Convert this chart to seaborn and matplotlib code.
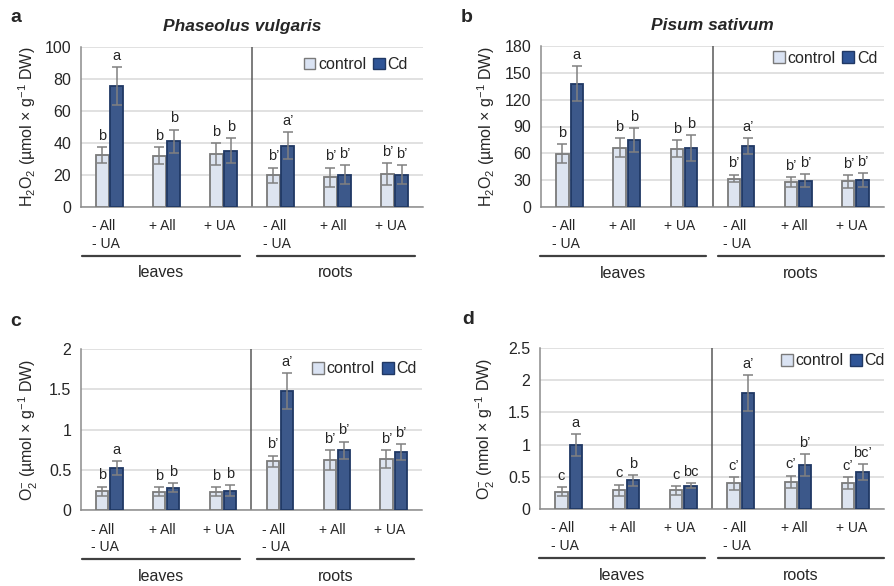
import numpy as np
import pandas as pd
import seaborn as sns
import matplotlib.pyplot as plt
import matplotlib.transforms as mtransforms
from matplotlib.patches import Patch

# categories
treatments = ["- All\n- UA", "+ All", "+ UA"]
organs = ["leaves", "roots"]
conditions = ["control", "Cd"]
positions = ["L1", "L2", "L3", "R1", "R2", "R3"]

# panel a: H2O2, Phaseolus vulgaris
a_control = [32.6, 32.0, 33.0, 19.8, 18.7, 20.4]
a_control_err = [5.1, 5.3, 7.0, 4.8, 5.9, 6.8]
a_cd = [75.6, 41.0, 35.2, 38.3, 20.2, 20.2]
a_cd_err = [11.6, 7.4, 8.0, 8.6, 5.9, 5.9]
a_control_sig = ["b", "b", "b", "b’", "b’", "b’"]
a_cd_sig = ["a", "b", "b", "a’", "b’", "b’"]

# panel b: H2O2, Pisum sativum
b_control = [59.4, 66.5, 65.4, 31.8, 27.6, 28.8]
b_control_err = [10.5, 10.8, 9.3, 4.4, 5.6, 7.1]
b_cd = [137.8, 74.7, 66.1, 68.0, 29.5, 30.3]
b_cd_err = [19.5, 13.1, 14.2, 9.3, 7.5, 7.4]
b_control_sig = ["b", "b", "b", "b’", "b’", "b’"]
b_cd_sig = ["a", "b", "b", "a’", "b’", "b’"]

# panel c: O2-, Phaseolus vulgaris
c_control = [0.233, 0.225, 0.225, 0.604, 0.62, 0.633]
c_control_err = [0.057, 0.055, 0.055, 0.071, 0.12, 0.112]
c_cd = [0.525, 0.275, 0.24, 1.48, 0.74, 0.717]
c_cd_err = [0.085, 0.055, 0.07, 0.22, 0.11, 0.10]
c_control_sig = ["b", "b", "b", "b’", "b’", "b’"]
c_cd_sig = ["a", "b", "b", "a’", "b’", "b’"]

# panel d: O2-, Pisum sativum
d_control = [0.27, 0.29, 0.29, 0.40, 0.42, 0.40]
d_control_err = [0.07, 0.09, 0.07, 0.10, 0.10, 0.09]
d_cd = [0.995, 0.445, 0.36, 1.80, 0.68, 0.575]
d_cd_err = [0.165, 0.085, 0.04, 0.28, 0.17, 0.125]
d_control_sig = ["c", "c", "c", "c’", "c’", "c’"]
d_cd_sig = ["a", "b", "bc", "a’", "b’", "bc’"]

CONTROL_COLOR = "#dae3f3"
CONTROL_EDGE = "#7a7a7a"
CD_COLOR = "#2f5597"
CD_EDGE = "#203864"
GRID_COLOR = "#d9d9d9"
TEXT_COLOR = "#262626"

sns.set_style("white")
plt.rcParams["font.family"] = ["Liberation Sans", "DejaVu Sans"]
plt.rcParams["mathtext.default"] = "regular"

fig = plt.figure(figsize=(8.94, 5.86), dpi=100)


def draw_panel(rect, letter, letter_xy, title, title_xy, ylabel, ymax, ystep,
               ctrl, ctrl_err, cd, cd_err, ctrl_sig, cd_sig,
               legend_xy, label_x, lines):
    ax = fig.add_axes(rect)
    df = pd.DataFrame({
        "pos": positions * 2,
        "value": ctrl + cd,
        "condition": ["control"] * 6 + ["Cd"] * 6,
    })
    sns.barplot(data=df, x="pos", y="value", hue="condition", order=positions,
                hue_order=conditions, palette=[CONTROL_COLOR, CD_COLOR],
                width=0.5, gap=0.14, errorbar=None, legend=False, ax=ax,
                linewidth=1.3, zorder=3)

    edges = [CONTROL_EDGE, CD_EDGE]
    for cont, err, sig, ec in zip(ax.containers, [ctrl_err, cd_err],
                                  [ctrl_sig, cd_sig], edges):
        xs, tops = [], []
        for bar in cont:
            bar.set_edgecolor(ec)
            xs.append(bar.get_x() + bar.get_width() / 2)
            tops.append(bar.get_height())
        ax.errorbar(xs, tops, yerr=err, fmt="none", ecolor="#808080",
                    elinewidth=1.1, capsize=3.5, capthick=1.1, zorder=4)
        for x, t, e, s in zip(xs, tops, err, sig):
            ax.annotate(s, (x, t + e), xytext=(0, 3), textcoords="offset points",
                        ha="center", va="bottom", fontsize=10.5, color=TEXT_COLOR)

    ax.set_xlim(-0.5, 5.5)
    ax.set_ylim(0, ymax)
    ticks = np.arange(0, ymax + ystep / 2, ystep)
    ax.set_yticks(ticks)
    ax.set_yticklabels([f"{t:g}" for t in ticks])
    ax.yaxis.grid(True, color=GRID_COLOR, linewidth=1.1, zorder=0)
    ax.set_axisbelow(True)
    ax.tick_params(axis="y", length=0, pad=7, labelsize=11.5, labelcolor=TEXT_COLOR)
    ax.tick_params(axis="x", length=0, pad=9, labelsize=10, labelcolor=TEXT_COLOR)
    ax.set_xticks(range(6))
    ax.set_xticklabels(treatments * 2, multialignment="left", linespacing=1.3)
    offset = mtransforms.ScaledTranslation(-0.04, 0, fig.dpi_scale_trans)
    for lab in ax.get_xticklabels():
        lab.set_transform(lab.get_transform() + offset)

    for side in ["top", "right"]:
        ax.spines[side].set_visible(False)
    for side in ["left", "bottom"]:
        ax.spines[side].set_color("#8c8c8c")
        ax.spines[side].set_linewidth(1.1)
    ax.axvline(2.5, color="#595959", linewidth=1.1, zorder=2)

    ax.set_xlabel("")
    ax.set_ylabel(ylabel, fontsize=11.5, color=TEXT_COLOR)
    ax.yaxis.set_label_coords(-label_x, 0.5)

    # organ brackets under the category labels
    trans = mtransforms.blended_transform_factory(ax.transData, ax.transAxes)
    for organ, (x0, x1) in zip(organs, lines):
        ax.plot([x0, x1], [-0.305, -0.305], color="#404040", linewidth=1.6,
                transform=trans, clip_on=False)
        ax.text((x0 + x1) / 2, -0.41, organ, transform=trans, ha="center",
                va="center", fontsize=11.5, color=TEXT_COLOR)

    handles = [Patch(facecolor=CONTROL_COLOR, edgecolor=CONTROL_EDGE, label="control"),
               Patch(facecolor=CD_COLOR, edgecolor=CD_EDGE, label="Cd")]
    ax.legend(handles=handles, loc="center right", bbox_to_anchor=legend_xy,
              ncol=2, frameon=False, fontsize=11.5, handlelength=0.75,
              handleheight=0.75, handletextpad=0.15, columnspacing=0.45,
              borderaxespad=0, borderpad=0)

    fig.text(letter_xy[0] / 894, 1 - letter_xy[1] / 586, letter, fontsize=14,
             fontweight="bold", ha="left", va="center")
    if title:
        ax.text(title_xy[0], title_xy[1], title, transform=ax.transAxes,
                ha="center", va="center", fontsize=12.5, fontweight="bold",
                fontstyle="italic", color=TEXT_COLOR)
    return ax


h2o2_label = "H$_2$O$_2$ (µmol × g$^{-1}$ DW)"

draw_panel([81 / 894, 1 - 207 / 586, 342 / 894, 160 / 586], "a", (10, 17),
           "Phaseolus vulgaris", (0.47, 1.13), h2o2_label, 100, 20,
           a_control, a_control_err, a_cd, a_cd_err, a_control_sig, a_cd_sig,
           (0.956, 0.89), 0.127, [(-0.48, 2.29), (2.59, 5.36)])

draw_panel([541 / 894, 1 - 207 / 586, 343 / 894, 161 / 586], "b", (461, 17),
           "Pisum sativum", (0.5, 1.13), h2o2_label, 180, 30,
           b_control, b_control_err, b_cd, b_cd_err, b_control_sig, b_cd_sig,
           (0.98, 0.925), 0.127, [(-0.52, 2.38), (2.6, 5.5)])

draw_panel([81 / 894, 1 - 510 / 586, 341 / 894, 161 / 586], "c", (10, 321),
           None, None, "O$_2^{-}$ (µmol × g$^{-1}$ DW)", 2, 0.5,
           c_control, c_control_err, c_cd, c_cd_err, c_control_sig, c_cd_sig,
           (0.985, 0.876), 0.12, [(-0.48, 2.29), (2.59, 5.36)])

draw_panel([540 / 894, 1 - 509 / 586, 344 / 894, 161 / 586], "d", (462, 320),
           None, None, "O$_2^{-}$ (nmol × g$^{-1}$ DW)", 2.5, 0.5,
           d_control, d_control_err, d_cd, d_cd_err, d_control_sig, d_cd_sig,
           (1.003, 0.92), 0.125, [(-0.52, 2.38), (2.6, 5.5)])

fig.savefig("out.png", dpi=100)
